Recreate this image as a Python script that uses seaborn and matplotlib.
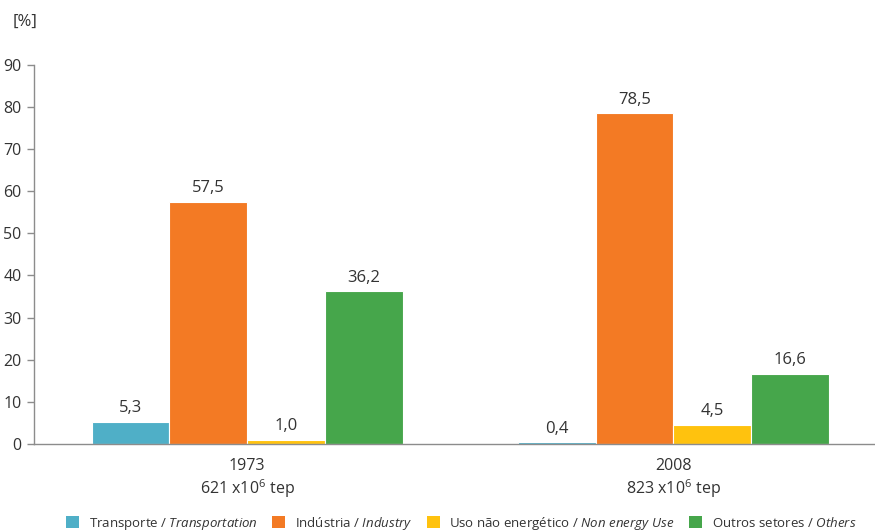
import matplotlib
matplotlib.use("Agg")
import matplotlib.pyplot as plt
import seaborn as sns
import pandas as pd
from matplotlib.patches import Patch

# data
years = ["1973", "2008"]
totals = ["621", "823"]
sectors = ["Transporte", "Indústria", "Uso não energético", "Outros setores"]
sectors_en = ["Transportation", "Industry", "Non energy Use", "Others"]
values_1973 = [5.3, 57.5, 1.0, 36.2]
values_2008 = [0.4, 78.5, 4.5, 16.6]
colors = ["#4FAFC7", "#F37A24", "#FFC20E", "#46A64B"]

rows = []
for s, v in zip(sectors, values_1973):
    rows.append({"ano": years[0], "setor": s, "valor": v})
for s, v in zip(sectors, values_2008):
    rows.append({"ano": years[1], "setor": s, "valor": v})
df = pd.DataFrame(rows)

sns.set_style("white")
plt.rcParams["font.family"] = ["Open Sans", "DejaVu Sans"]
plt.rcParams["mathtext.fontset"] = "custom"
plt.rcParams["mathtext.it"] = "Open Sans:italic"
plt.rcParams["mathtext.rm"] = "Open Sans"
txt = "#333333"
grey = "#8c8c8c"

fig = plt.figure(figsize=(8.75, 5.31), dpi=100)
ax = fig.add_axes([0.039, 0.164, 0.962, 0.714])

sns.barplot(data=df, x="ano", y="valor", hue="setor", hue_order=sectors,
            palette=colors, width=0.73, saturation=1, ax=ax, legend=False,
            edgecolor="white", linewidth=0.8)

for cont in ax.containers:
    ax.bar_label(cont, labels=[f"{b.get_height():.1f}".replace(".", ",") for b in cont],
                 padding=4, fontsize=12, color=txt)

ax.set_ylim(0, 90)
ax.set_xlim(-0.5, 1.475)
ax.set_yticks(range(0, 91, 10))
ax.set_xticks([0, 1])
ax.set_xticklabels([f"{y}\n{t} x10$^6$ tep" for y, t in zip(years, totals)],
                   fontsize=11.5, color=txt)
ax.set_xticks([-0.5, 0.5], minor=True)
ax.tick_params(axis="x", which="major", length=0, pad=10)
ax.tick_params(axis="x", which="minor", length=5, color=grey, width=1)
ax.tick_params(axis="y", length=5, color=grey, width=1, labelsize=11.5,
               labelcolor=txt, pad=4, left=True)
ax.set_xlabel("")
ax.set_ylabel("")
for sp in ["top", "right"]:
    ax.spines[sp].set_visible(False)
for sp in ["left", "bottom"]:
    ax.spines[sp].set_color(grey)
    ax.spines[sp].set_linewidth(1)

fig.text(0.014, 0.958, "[%]", fontsize=12, color=txt, ha="left", va="center")

handles = [Patch(facecolor=c, edgecolor="none") for c in colors]
labels = []
for pt, en in zip(sectors, sectors_en):
    en_m = en.replace(" ", "\\ ")
    labels.append(pt + " / $\\it{" + en_m + "}$")
fig.legend(handles, labels, loc="lower center", bbox_to_anchor=(0.527, -0.024),
           ncol=4, frameon=False, fontsize=9.5, handlelength=1.0,
           handleheight=1.0, handletextpad=0.7, columnspacing=1.1,
           labelcolor=txt)

fig.savefig("out.png", dpi=100)
